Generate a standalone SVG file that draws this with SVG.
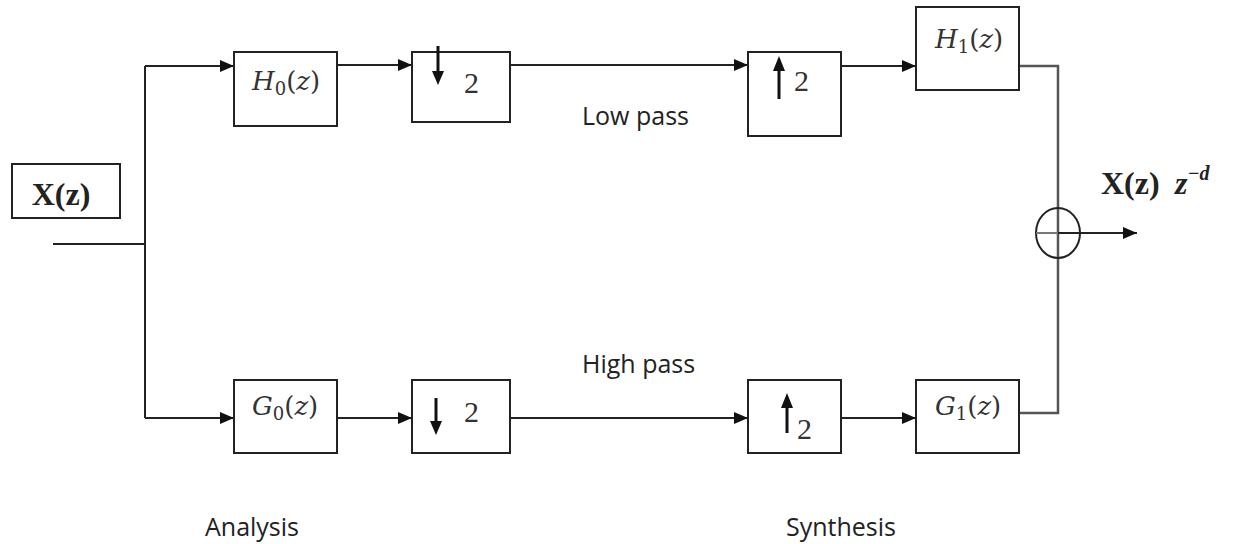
<svg xmlns="http://www.w3.org/2000/svg" width="1234" height="544" viewBox="0 0 1234 544">
<style>
.box{fill:#fff;stroke:#222;stroke-width:2}
.ln{fill:none;stroke:#222;stroke-width:2}
.ar{fill:none;stroke:#111;stroke-width:3}
.m{font-family:"DejaVu Serif","Liberation Serif",serif;font-style:italic;font-size:26px;fill:#333}
.dig{font-family:"Liberation Serif","DejaVu Serif",serif;font-size:30px;fill:#333}
.lbl{font-family:"Open Sans","Noto Sans",sans-serif;font-size:25px;fill:#222}
.b{font-family:"Liberation Serif",serif;font-weight:bold;font-size:32px;fill:#222}
</style>
<defs>
<marker id="ah" markerWidth="14" markerHeight="12" refX="14" refY="6" orient="auto" markerUnits="userSpaceOnUse">
<path d="M0,0 L14,6 L0,12 Z" fill="#111"/>
</marker>
</defs>
<g id="connectors">
<path class="ln" d="M53,244 H145"/>
<path class="ln" d="M145,66 V418"/>
<path class="ln" d="M145,66 H234" marker-end="url(#ah)"/>
<path class="ln" d="M145,418 H234" marker-end="url(#ah)"/>
<path class="ln" d="M337,65 H412" marker-end="url(#ah)"/>
<path class="ln" d="M337,418 H412" marker-end="url(#ah)"/>
<path class="ln" d="M510,65 H748" marker-end="url(#ah)"/>
<path class="ln" d="M510,418 H748" marker-end="url(#ah)"/>
<path class="ln" d="M841,66 H916" marker-end="url(#ah)"/>
<path class="ln" d="M841,418 H916" marker-end="url(#ah)"/>
<path d="M1019,66 H1058 V413 H1019" fill="none" stroke="#555" stroke-width="2.5"/>
<path class="ln" d="M1058,233 H1137" marker-end="url(#ah)"/>
</g>
<g id="input">
<rect class="box" x="12" y="164" width="108" height="54"/>
<text class="b" x="61" y="205" text-anchor="middle">X(z)</text>
</g>
<g id="H0">
<rect class="box" x="234" y="52" width="103" height="74"/>
<text class="m" x="252" y="90">H<tspan font-style="normal" font-size="18" dy="5">0</tspan><tspan dy="-5" font-style="normal">(</tspan>z<tspan font-style="normal">)</tspan></text>
</g>
<g id="down_top">
<rect class="box" x="412" y="52" width="98" height="70"/>
<path class="ar" d="M438,46 V74"/>
<path d="M432,71 L438,85 L444,71 Z" fill="#111"/>
<text class="dig" x="464" y="93">2</text>
</g>
<g id="up_top">
<rect class="box" x="748" y="52" width="93" height="84"/>
<path class="ar" d="M779,99 V68"/>
<path d="M773,71 L779,56 L785,71 Z" fill="#111"/>
<text class="dig" x="794" y="91">2</text>
</g>
<g id="H1">
<rect class="box" x="916" y="7" width="103" height="83"/>
<text class="m" x="935" y="48">H<tspan font-style="normal" font-size="18" dy="5">1</tspan><tspan dy="-5" font-style="normal">(</tspan>z<tspan font-style="normal">)</tspan></text>
</g>
<g id="G0">
<rect class="box" x="234" y="380" width="103" height="73"/>
<text class="m" x="252" y="415">G<tspan font-style="normal" font-size="18" dy="5">0</tspan><tspan dy="-5" font-style="normal">(</tspan>z<tspan font-style="normal">)</tspan></text>
</g>
<g id="down_bot">
<rect class="box" x="412" y="380" width="98" height="73"/>
<path class="ar" d="M436,398 V423"/>
<path d="M430,421 L436,435 L442,421 Z" fill="#111"/>
<text class="dig" x="464" y="422">2</text>
</g>
<g id="up_bot">
<rect class="box" x="748" y="380" width="93" height="73"/>
<path class="ar" d="M787,433 V405"/>
<path d="M781,408 L787,393 L793,408 Z" fill="#111"/>
<text class="dig" x="797" y="439">2</text>
</g>
<g id="G1">
<rect class="box" x="916" y="380" width="103" height="73"/>
<text class="m" x="935" y="415">G<tspan font-style="normal" font-size="18" dy="5">1</tspan><tspan dy="-5" font-style="normal">(</tspan>z<tspan font-style="normal">)</tspan></text>
</g>
<g id="sum">
<ellipse cx="1058" cy="233" rx="22" ry="25" fill="none" stroke="#222" stroke-width="2"/>
<path d="M1036,233 H1058" stroke="#777" stroke-width="2"/>
<path class="ln" d="M1058,233 H1080"/>
</g>
<g id="output">
<text class="b" x="1101" y="194">X(z)</text>
<text class="b" x="1175" y="194" font-style="italic" font-size="30">z<tspan font-size="20" dy="-14">−d</tspan></text>
</g>
<g id="labels">
<text class="lbl" x="582" y="125">Low pass</text>
<text class="lbl" x="582" y="373">High pass</text>
<text class="lbl" x="205" y="536">Analysis</text>
<text class="lbl" x="786" y="536">Synthesis</text>
</g>
</svg>
